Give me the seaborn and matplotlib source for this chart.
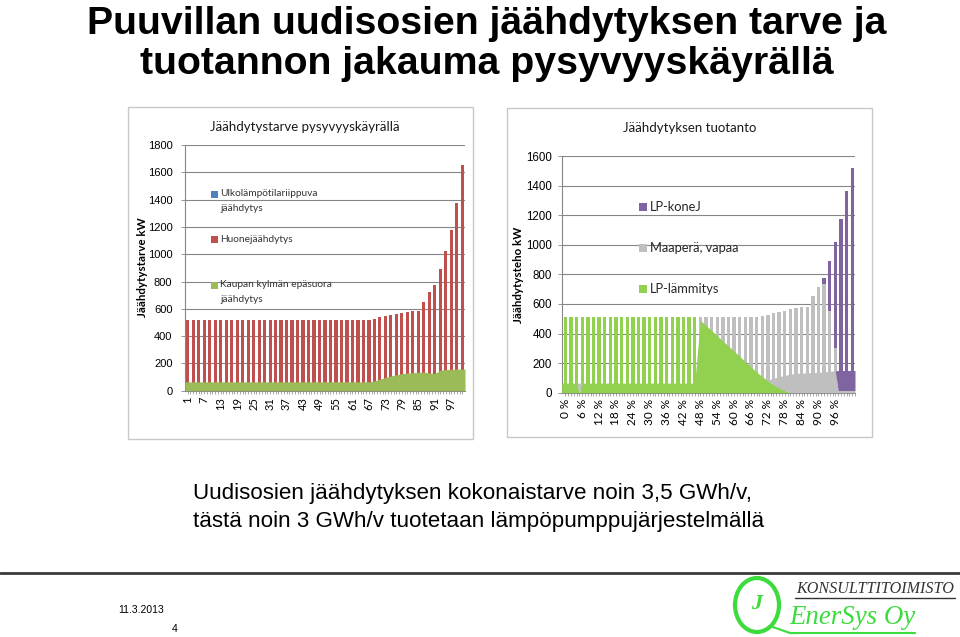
import numpy as np
import pandas as pd
import matplotlib
matplotlib.use("Agg")
import matplotlib.pyplot as plt
import seaborn as sns
from matplotlib.patches import Rectangle, Ellipse
from matplotlib.lines import Line2D

# ---------------- data: left chart (demand duration curve) ----------------
demand_cats = [1, 3, 5, 7, 9, 11, 13, 15, 17, 19, 21, 23, 25, 27, 29, 31, 33, 35, 37, 39,
               41, 43, 45, 47, 49, 51, 53, 55, 57, 59, 61, 63, 65, 67, 69, 71, 73, 75, 77, 79,
               81, 83, 85, 87, 89, 91, 93, 95, 97, 99, 101]
# Huonejäähdytys (bar top, total demand)
demand_total = [515, 515, 515, 515, 515, 515, 515, 515, 515, 515, 515, 515, 515, 515, 515, 515, 515,
                515, 515, 515, 515, 515, 515, 515, 515, 515, 515, 515, 515, 515, 515, 515, 515, 515,
                522, 537, 544, 551, 561, 568, 578, 585, 585, 652, 723, 777, 894, 1027, 1176, 1372, 1654]
# Kaupan kylmän epäsuora jäähdytys (area)
demand_kaupan = [65, 65, 65, 65, 65, 65, 65, 65, 65, 65, 65, 65, 65, 65, 65, 65, 65,
                 65, 65, 65, 65, 65, 65, 65, 65, 65, 65, 65, 65, 65, 65, 65, 65, 65,
                 72, 85, 97, 108, 117, 125, 130, 132, 134, 136, 130, 126, 150, 155, 157, 158, 158]
demand_tick_labels = ["1", "7", "13", "19", "25", "31", "37", "43", "49", "55", "61", "67",
                      "73", "79", "85", "91", "97"]

# ---------------- data: right chart (production) ----------------
prod_cats = [0, 2, 4, 6, 8, 10, 12, 14, 16, 18, 20, 22, 24, 26, 28, 30, 32, 34, 36, 38, 40,
             42, 44, 46, 48, 50, 52, 54, 56, 58, 60, 62, 64, 66, 68, 70, 72, 74, 76, 78, 80,
             82, 84, 86, 88, 90, 92, 94, 96, 98, 100, 102]
# bar tops (kW): total (LP-koneJ on top), Maaperä top, LP-lämmitys top
prod_total = [515, 515, 515, 515, 515, 515, 515, 515, 515, 515, 515, 515, 515, 515, 515, 515, 515,
              515, 515, 515, 515, 515, 515, 515, 515, 515, 515, 515, 515, 515, 515, 515, 515, 515,
              515, 521, 527, 536, 543, 552, 563, 575, 582, 582, 654, 717, 778, 890, 1021, 1177,
              1361, 1517]
prod_ground_top = [515, 515, 515, 515, 515, 515, 515, 515, 515, 515, 515, 515, 515, 515, 515, 515, 515,
                   515, 515, 515, 515, 515, 515, 515, 515, 515, 515, 515, 515, 515, 515, 515, 515, 515,
                   515, 521, 527, 536, 543, 552, 563, 575, 582, 582, 654, 717, 733, 552, 300, 0, 0, 0]
prod_heat_top = [515, 515, 515, 515, 515, 515, 515, 515, 515, 515, 515, 515, 515, 515, 515, 515, 515,
                 515, 515, 515, 515, 515, 515, 515, 0, 0, 0, 0, 0, 0, 0, 0, 0, 0,
                 0, 0, 0, 0, 0, 0, 0, 0, 0, 0, 0, 0, 0, 0, 0, 0, 0, 0]
# stacked area layer (kW)
area_pct = [0, 4, 5, 6, 46, 48, 50, 52, 54, 56, 58, 60, 62, 64, 66, 68, 70, 72, 74, 76, 78,
            80, 82, 84, 86, 88, 90, 92, 94, 96, 97, 98, 100, 102]
area_heat = [65, 65, 0, 65, 65, 490, 455, 420, 385, 350, 315, 280, 245, 210, 175, 140, 108, 80,
             55, 33, 15, 0, 0, 0, 0, 0, 0, 0, 0, 0, 0, 0, 0, 0]
area_ground = [0, 0, 65, 0, 0, 0, 0, 0, 0, 0, 0, 0, 0, 0, 0, 0, 0, 5, 42, 75, 102,
               125, 130, 132, 134, 136, 138, 140, 145, 148, 15, 15, 15, 15]
area_kone = [0, 0, 0, 0, 0, 0, 0, 0, 0, 0, 0, 0, 0, 0, 0, 0, 0, 0, 0, 0, 0,
             0, 0, 0, 0, 0, 0, 0, 0, 0, 135, 135, 135, 135]
prod_tick_labels = ["0 %", "6 %", "12 %", "18 %", "24 %", "30 %", "36 %", "42 %", "48 %",
                    "54 %", "60 %", "66 %", "72 %", "78 %", "84 %", "90 %", "96 %"]

# ---------------- colours ----------------
RED = '#C0504D'
GREEN_L = '#9BBB59'
BLUE = '#4F81BD'
GREEN_R = '#92D050'
GREY = '#BFBFBF'
PURPLE = '#8064A2'
GRID = '#868686'

sns.set_theme(style="white")
plt.rcParams['font.family'] = ['Liberation Sans', 'DejaVu Sans']
plt.rcParams['text.color'] = 'black'
CAL = ['Lato', 'DejaVu Sans']

W, H = 960, 637
fig = plt.figure(figsize=(9.6, 6.37), dpi=100)
fig.patch.set_facecolor('white')


def fx(x):
    return x / W


def fy(y):
    return 1 - y / H


def ftext(x, y, s, **kw):
    return fig.text(fx(x), fy(y), s, **kw)


renderer = fig.canvas.get_renderer()


def fit_width(t, target_px):
    w = t.get_window_extent(renderer=renderer).width
    if w > 0:
        t.set_fontsize(t.get_fontsize() * target_px / w)
    return t.get_fontsize()


# chart frames
for (x0, y0, x1, y1) in [(128, 107, 473, 439), (507, 108, 872, 437)]:
    fig.patches.append(Rectangle((fx(x0), fy(y1)), (x1 - x0) / W, (y1 - y0) / H,
                                 transform=fig.transFigure, fill=False, ec='#C8C8C8', lw=1.0))

axL = fig.add_axes([fx(185), fy(390.7), (465 - 185) / W, (390.7 - 145) / H])
axR = fig.add_axes([fx(561.7), fy(392.7), (855 - 561.7) / W, (392.7 - 156) / H])


def style(ax, ymax, ystep, xlim, cats_all, lab_pos, labels, ysize, xsize, ypad):
    ax.set_facecolor('none')
    ax.set_ylim(0, ymax)
    ax.set_yticks(np.arange(0, ymax + 1, ystep))
    ax.set_xlim(*xlim)
    ax.set_xticks(cats_all)
    lab = ['' for _ in cats_all]
    for p, t in zip(lab_pos, labels):
        lab[cats_all.index(p)] = t
    ax.set_xticklabels(lab, rotation=90, family=CAL, fontsize=xsize, color='black')
    for t in ax.get_yticklabels():
        t.set_fontsize(ysize)
        t.set_color('black')
    ax.grid(axis='y', color=GRID, lw=0.8)
    ax.grid(axis='x', visible=False)
    ax.set_axisbelow(True)
    for s in ['top', 'right']:
        ax.spines[s].set_visible(False)
    for s in ['left', 'bottom']:
        ax.spines[s].set_color(GRID)
        ax.spines[s].set_linewidth(0.8)
    ax.tick_params(axis='x', length=2.5, width=0.5, color=GRID, pad=2, bottom=True)
    ax.tick_params(axis='y', length=3, width=0.6, color=GRID, pad=ypad, left=True)
    ax.set_xlabel('')
    ax.set_ylabel('')


# ---------------- left chart ----------------
dfL = pd.DataFrame({'tunti': demand_cats, 'huone': demand_total, 'kaupan': demand_kaupan})
sns.barplot(data=dfL, x='tunti', y='huone', native_scale=True, color=RED, saturation=1,
            width=0.58, linewidth=0, errorbar=None, ax=axL, zorder=2)
xlL = (0.0, 102.0)
xsL = np.concatenate([[xlL[0]], dfL['tunti'].values, [xlL[1]]])
ysL = np.concatenate([[demand_kaupan[0]], dfL['kaupan'].values, [demand_kaupan[-1]]])
axL.fill_between(xsL, 0, ysL, color=GREEN_L, lw=0, zorder=3)
allL = list(range(1, 102))
style(axL, 1800, 200, xlL, allL, [int(t) for t in demand_tick_labels], demand_tick_labels,
      8.0, 8.0, 6)

# ---------------- right chart ----------------
dfR = pd.DataFrame({'osuus': prod_cats, 'kone': prod_total, 'maa': prod_ground_top,
                    'lammitys': prod_heat_top})
for col, c in [('kone', PURPLE), ('maa', GREY), ('lammitys', GREEN_R)]:
    sns.barplot(data=dfR, x='osuus', y=col, native_scale=True, color=c, saturation=1,
                width=0.6, linewidth=0, errorbar=None, ax=axR, zorder=2)
xlR = (-1.3, 103.0)
g = np.array(area_heat, float)
m = np.array(area_ground, float)
p = np.array(area_kone, float)


def ext(a):
    return np.concatenate([[a[0]], a, [a[-1]]])


xsR = np.concatenate([[xlR[0]], area_pct, [xlR[1]]])
axR.fill_between(xsR, 0, ext(g), color=GREEN_R, lw=0, zorder=3)
axR.fill_between(xsR, ext(g), ext(g + m), color=GREY, lw=0, zorder=3)
axR.fill_between(xsR, ext(g + m), ext(g + m + p), color=PURPLE, lw=0, zorder=3)
allR = list(range(0, 104))
style(axR, 1600, 200, xlR, allR, [int(t.split()[0]) for t in prod_tick_labels],
      prod_tick_labels, 8.3, 8.5, 4)

# ---------------- chart texts ----------------
ftext(305, 127, 'Jäähdytystarve pysyvyyskäyrällä', family=CAL, fontsize=9.5,
      ha='center', va='center', color='#1a1a1a')
ftext(690, 128, 'Jäähdytyksen tuotanto', family=CAL, fontsize=9.5,
      ha='center', va='center', color='#1a1a1a')
ftext(142, 267, 'Jäähdytystarve kW', family=CAL, fontsize=8.3, fontweight='bold',
      rotation=90, ha='center', va='center')
ftext(518, 275, 'Jäähdytysteho kW', family=CAL, fontsize=8.3, fontweight='bold',
      rotation=90, ha='center', va='center')

# legends (left)
for (yy, col, lines) in [(194, BLUE, ['Ulkolämpötilariippuva', 'jäähdytys']),
                         (239, RED, ['Huonejäähdytys']),
                         (285, GREEN_L, ['Kaupan kylmän epäsuora', 'jäähdytys'])]:
    fig.patches.append(Rectangle((fx(210.5), fy(yy + 3.5)), 7 / W, 7 / H,
                                 transform=fig.transFigure, color=col, lw=0))
    for i, ln in enumerate(lines):
        ftext(220, yy + i * 14.5, ln, family=CAL, fontsize=7.3, ha='left', va='center',
              color='#333333')

# legends (right)
for (yy, col, ln) in [(207, PURPLE, 'LP-koneJ'), (248, GREY, 'Maaperä, vapaa'),
                      (289, GREEN_R, 'LP-lämmitys')]:
    fig.patches.append(Rectangle((fx(638.5), fy(yy + 4)), 8 / W, 8 / H,
                                 transform=fig.transFigure, color=col, lw=0))
    ftext(650, yy, ln, family=CAL, fontsize=9.3, ha='left', va='center', color='#262626')

# ---------------- slide texts ----------------
t1 = ftext(487, 34, 'Puuvillan uudisosien jäähdytyksen tarve ja', family=['Liberation Sans'],
           fontweight='bold', fontsize=28, ha='center', va='baseline', color='black')
tsize = fit_width(t1, 800)
ftext(487, 74, 'tuotannon jakauma pysyvyyskäyrällä', family=['Liberation Sans'],
      fontweight='bold', fontsize=tsize, ha='center', va='baseline', color='black')

b1 = ftext(193, 493, 'Uudisosien jäähdytyksen kokonaistarve noin 3,5 GWh/v,', fontsize=15,
           ha='left', va='center', color='black')
bsize = fit_width(b1, 559)
ftext(193, 521, 'tästä noin 3 GWh/v tuotetaan lämpöpumppujärjestelmällä', fontsize=bsize,
      ha='left', va='center', color='black')

# footer
fig.add_artist(Line2D([0, 1], [fy(573), fy(573)], transform=fig.transFigure,
                      color='#3a3a3a', lw=2))
ftext(118, 610, '11.3.2013', fontsize=7.5, ha='left', va='center', color='black')
ftext(175, 629, '4', fontsize=7.5, ha='center', va='center', color='black')

LOGO = '#3CDC3C'
fig.patches.append(Ellipse((fx(757), fy(605)), 44 / W, 54 / H, transform=fig.transFigure,
                           fill=False, ec=LOGO, lw=3))
ftext(757, 604, 'J', family=['Liberation Serif'], fontstyle='italic', fontsize=16,
      color=LOGO, ha='center', va='center', fontweight='bold')
fig.add_artist(Line2D([fx(770), fx(790), fx(915)], [fy(626), fy(633), fy(633)],
                      transform=fig.transFigure, color=LOGO, lw=1.5))
k1 = ftext(875, 589, 'KONSULTTITOIMISTO', family=['Liberation Serif'], fontstyle='italic',
           fontsize=10, ha='center', va='center', color='#333333')
fit_width(k1, 158)
fig.add_artist(Line2D([fx(795), fx(955)], [fy(598), fy(598)], transform=fig.transFigure,
                      color='#333333', lw=1))
e1 = ftext(852, 617, 'EnerSys Oy', family=['Liberation Serif'], fontstyle='italic',
           fontsize=22, ha='center', va='center', color=LOGO)
fit_width(e1, 126)

fig.savefig('out.png', dpi=100, facecolor='white')
